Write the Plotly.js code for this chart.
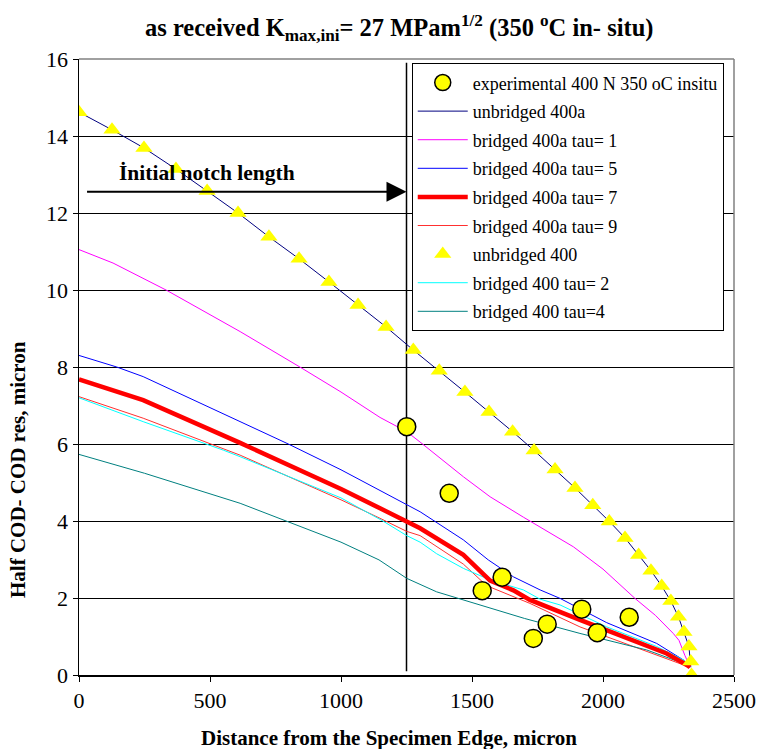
<!DOCTYPE html>
<html>
<head>
<meta charset="utf-8">
<script src="https://cdn.plot.ly/plotly-3.0.1.min.js"></script>
<style>html,body{margin:0;padding:0;background:#fff;}#chart{width:759px;height:749px;}</style>
</head>
<body>
<div id="chart"></div>
<script>
// ---- data ----
const expX = [1251, 1413, 1539, 1615, 1734, 1787, 1919, 1978, 2100];
const expY = [6.45, 4.72, 2.19, 2.54, 0.95, 1.32, 1.71, 1.10, 1.50];

const unb400aX = [0,126,248,370,489,607,725,840,954,1065,1172,1276,1375,1473,1565,1655,1737,1817,1893,1961,2024,2084,2136,2183,2224,2259,2288,2309,2328,2335];
const unb400aY = [14.62,14.16,13.69,13.14,12.57,12.0,11.38,10.81,10.21,9.61,9.04,8.44,7.9,7.35,6.83,6.32,5.83,5.34,4.86,4.41,3.99,3.56,3.12,2.71,2.31,1.92,1.51,1.12,0.74,0.2];

const tau1X = [0,130,335,615,843,1000,1149,1251,1302,1467,1569,1696,1887,2000,2122,2200,2268,2290,2313,2332];
const tau1Y = [11.05,10.70,9.99,8.92,8.0,7.35,6.69,6.32,6.05,5.15,4.63,4.1,3.33,2.75,1.99,1.55,1.08,0.9,0.5,0.22];

const tau5X = [0,144,245,615,799,1000,1149,1251,1302,1467,1562,1658,1760,1836,2014,2205,2307,2332];
const tau5Y = [8.3,8.0,7.75,6.58,6.0,5.33,4.79,4.42,4.24,3.51,2.99,2.55,2.21,1.99,1.36,0.82,0.39,0.22];

const tau7X = [0,245,615,1000,1149,1251,1302,1467,1569,1658,1721,1912,2116,2243,2320,2332];
const tau7Y = [7.68,7.14,6.03,4.83,4.33,3.98,3.81,3.12,2.45,2.2,1.95,1.43,0.91,0.56,0.26,0.2];

const tau9X = [0,245,615,1000,1149,1251,1302,1467,1556,1658,1721,1912,2116,2293,2332];
const tau9Y = [7.23,6.67,5.71,4.55,4.07,3.73,3.62,2.88,2.32,2.03,1.86,1.25,0.74,0.3,0.2];

const unb400X = [0,126,248,370,489,607,725,840,954,1065,1172,1276,1375,1473,1565,1655,1737,1817,1893,1961,2024,2084,2136,2183,2224,2259,2288,2309,2328,2335,2338];
const unb400Y = [14.62,14.16,13.69,13.14,12.57,12.0,11.38,10.81,10.21,9.61,9.04,8.44,7.9,7.35,6.83,6.32,5.83,5.34,4.86,4.41,3.99,3.56,3.12,2.71,2.31,1.92,1.51,1.12,0.74,0.35,0.0];

const b400t2X = [0,245,551,615,1000,1160,1251,1302,1365,1467,1569,1696,1760,1836,2014,2205,2310,2332];
const b400t2Y = [7.2,6.58,5.84,5.67,4.6,4.0,3.62,3.45,3.15,2.77,2.47,2.21,1.97,1.82,1.25,0.74,0.38,0.22];

const b400t4X = [0,250,615,1000,1145,1251,1365,1467,1600,1700,1912,2167,2307,2332];
const b400t4Y = [5.73,5.24,4.46,3.45,2.99,2.51,2.16,1.95,1.68,1.47,1.08,0.65,0.30,0.2];

const xTicks = [0, 500, 1000, 1500, 2000, 2500];
const yTicks = [0, 2, 4, 6, 8, 10, 12, 14, 16];

const FONT = '"Liberation Serif", "Times New Roman", Times, serif';

function lineTrace(name, x, y, color, width, rank) {
  return {type:'scatter', mode:'lines', name:name, x:x, y:y,
    line:{color:color, width:width}, legendgroup:'g'+rank, legendrank:rank};
}

const traces = [
  lineTrace('unbridged 400a', unb400aX, unb400aY, '#000080', 1, 2),
  lineTrace('bridged 400a tau= 1', tau1X, tau1Y, '#FF00FF', 1, 3),
  lineTrace('bridged 400a tau= 5', tau5X, tau5Y, '#0000FF', 1, 4),
  lineTrace('bridged 400a tau= 9', tau9X, tau9Y, '#FF3030', 1, 6),
  lineTrace('bridged 400 tau= 2', b400t2X, b400t2Y, '#00FFFF', 1, 8),
  lineTrace('bridged 400 tau=4', b400t4X, b400t4Y, '#008080', 1, 9),
  lineTrace('bridged 400a tau= 7', tau7X, tau7Y, '#FF0000', 4.5, 5),
  {type:'scatter', mode:'markers', name:'unbridged 400', x:unb400X, y:unb400Y,
    marker:{symbol:'triangle-up', size:15, color:'#FFFF00', line:{width:0}},
    legendgroup:'g7', legendrank:7},
  {type:'scatter', mode:'markers', name:'experimental 400 N 350 oC insitu', x:expX, y:expY,
    marker:{symbol:'circle', size:18, color:'#FFFF00', line:{color:'#000000', width:1.5}},
    legendgroup:'g1', legendrank:1}
];

const layout = {
  width:759, height:749,
  margin:{l:79, r:25, t:59, b:74, pad:0},
  paper_bgcolor:'#ffffff', plot_bgcolor:'#ffffff',
  font:{family:FONT, color:'#000000'},
  title:{text:'<b>as received K<sub>max,ini</sub>= 27 MPam<sup>1/2</sup> (350 <sup>o</sup>C in- situ)</b>',
    font:{family:FONT, size:24.5, color:'#000'}, x:0.526, xref:'container', xanchor:'center', y:0.963, yanchor:'middle'},
  showlegend:true,
  legend:{x:0.508, y:0.993, xanchor:'left', yanchor:'top', bgcolor:'#ffffff',
    bordercolor:'#000000', borderwidth:1, font:{family:FONT, size:18, color:'#000'},
    traceorder:'grouped', tracegroupgap:2.2, itemwidth:50},
  xaxis:{range:[0,2500], tickvals:xTicks, ticktext:xTicks.map(String), showgrid:false, zeroline:false,
    showline:true, linecolor:'#000', linewidth:1.5, ticks:'outside', ticklen:5, tickcolor:'#000',
    tickfont:{family:FONT, size:22, color:'#000'}, fixedrange:true},
  yaxis:{range:[0,16], tickvals:yTicks, ticktext:yTicks.map(String), showgrid:true, gridcolor:'#000', gridwidth:1,
    zeroline:false, showline:true, linecolor:'#000', linewidth:1.5, ticks:'outside', ticklen:5, tickcolor:'#000',
    tickfont:{family:FONT, size:22, color:'#000'}, fixedrange:true},
  shapes:[
    {type:'line', xref:'paper', yref:'paper', x0:0, x1:1, y0:1, y1:1, line:{color:'#808080', width:1.5}, layer:'above'},
    {type:'line', xref:'paper', yref:'paper', x0:1, x1:1, y0:0, y1:1, line:{color:'#808080', width:1.5}, layer:'above'},
    {type:'line', xref:'x', yref:'y', x0:1250, x1:1250, y0:0.1, y1:15.9, line:{color:'#000', width:1.5}, layer:'below'}
  ],
  annotations:[
    {xref:'x', yref:'y', x:1250, y:12.55, axref:'x', ayref:'y', ax:25, ay:12.55, text:'', showarrow:true,
      arrowhead:2, arrowsize:2, arrowwidth:2, arrowcolor:'#000'},
    {xref:'x', yref:'y', x:489, y:13.05, text:'<b>İnitial notch length</b>', showarrow:false,
      font:{family:FONT, size:21.5, color:'#000'}, xanchor:'center', yanchor:'middle'},
    {xref:'paper', yref:'paper', x:(389-79)/655, y:(675-738)/616, text:'<b>Distance from the Specimen Edge, micron</b>',
      showarrow:false, font:{family:FONT, size:21, color:'#000'}, xanchor:'center', yanchor:'middle'},
    {xref:'paper', yref:'paper', x:(18-79)/655, y:(675-470)/616, text:'<b>Half COD- COD res, micron</b>', textangle:-90,
      showarrow:false, font:{family:FONT, size:21, color:'#000'}, xanchor:'center', yanchor:'middle'}
  ]
};

Plotly.newPlot('chart', traces, layout, {displayModeBar:false, staticPlot:true});
</script>
</body>
</html>
